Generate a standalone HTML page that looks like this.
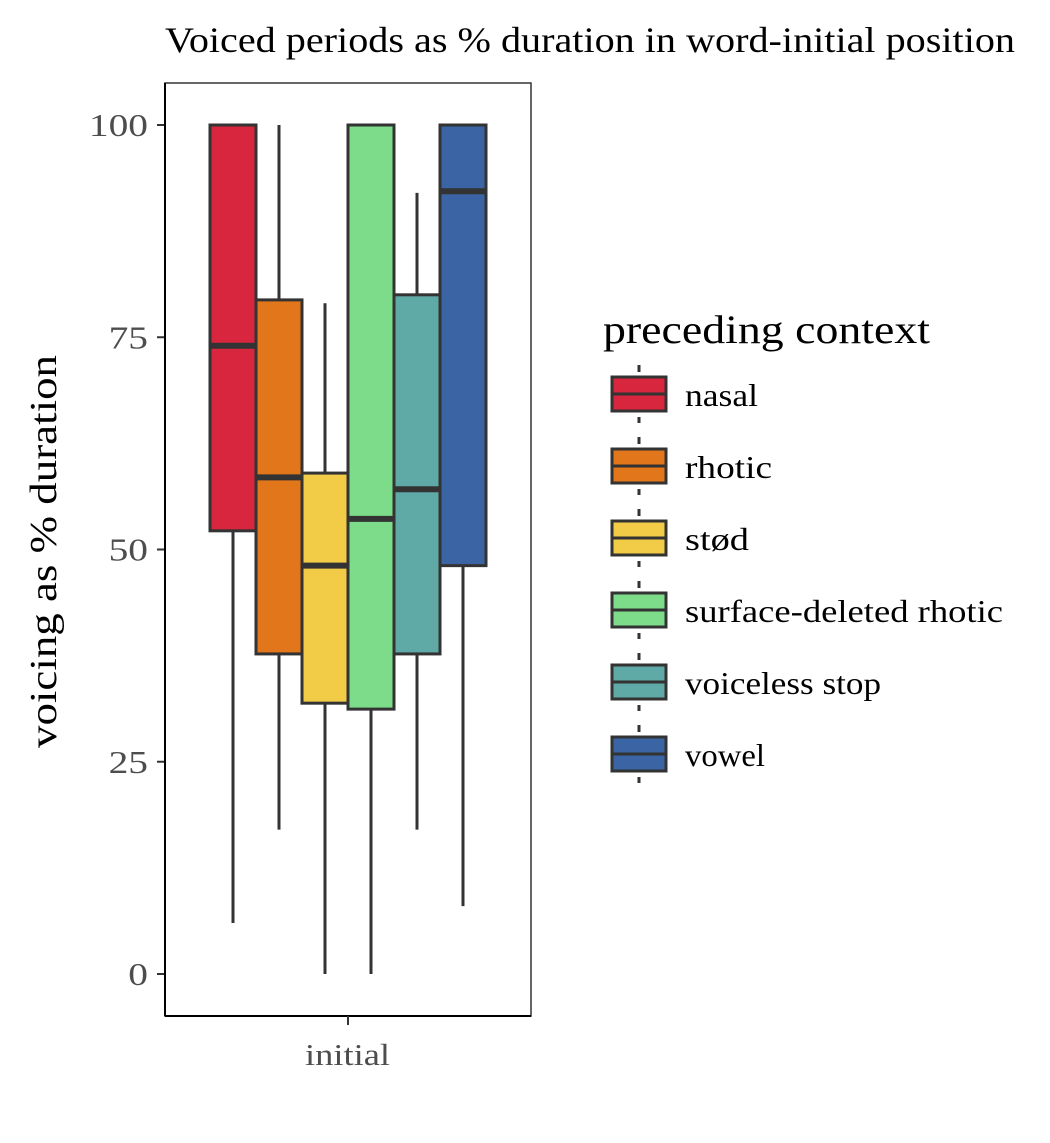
<!DOCTYPE html>
<html><head><meta charset="utf-8"><style>
html,body{margin:0;padding:0;background:#fff;}
svg{display:block;font-family:"Liberation Serif",serif;}
</style></head><body>
<svg id="chart" width="1050" height="1143" viewBox="0 0 1050 1143">
<text x="165" y="52" font-size="36" fill="#000" textLength="850" lengthAdjust="spacingAndGlyphs">Voiced periods as % duration in word-initial position</text>
<rect x="165" y="83" width="366" height="933" fill="#fff" stroke="#333" stroke-width="1.5"/>
<g id="boxes"></g>
<g id="yaxis"></g>
<line x1="165" y1="83" x2="165" y2="1016" stroke="#000" stroke-width="2"/>
<line x1="165" y1="1016" x2="531" y2="1016" stroke="#000" stroke-width="2"/>
<line x1="348" y1="1016" x2="348" y2="1025" stroke="#333" stroke-width="2"/>
<text x="305" y="1065" font-size="31" fill="#4d4d4d" textLength="85" lengthAdjust="spacingAndGlyphs">initial</text>
<text transform="translate(56,748) rotate(-90)" font-size="38" fill="#000" textLength="393" lengthAdjust="spacingAndGlyphs">voicing as % duration</text>
<text x="603" y="343" font-size="40" fill="#000" textLength="327" lengthAdjust="spacingAndGlyphs">preceding context</text>
<g id="legend"></g>
</svg>
<script>
const categories=["nasal","rhotic","stød","surface-deleted rhotic","voiceless stop","vowel"];
const mins=[6,17,0,0,17,8];
const q1s=[52.2,37.7,31.9,31.2,37.7,48.1];
const medians=[74,58.5,48.1,53.6,57.1,92.2];
const q3s=[100,79.4,59,100,80,100];
const maxs=[100,100,79,100,92,100];
const colors=["#D7263D","#E1761B","#F2CB47","#7CDC8A","#5FA9A6","#3A64A3"];
const yTicks=[0,25,50,75,100];
const NS="http://www.w3.org/2000/svg";
const y=v=>974-v*8.49;
const boxW=46, x0=210;
const xc=i=>x0+boxW*i+boxW/2;
function mk(tag,attrs,parent){const e=document.createElementNS(NS,tag);for(const k in attrs)e.setAttribute(k,attrs[k]);parent.appendChild(e);return e;}
const yg=document.getElementById('yaxis');
yTicks.forEach(t=>{
 const l=mk('line',{x1:157,x2:165,y1:y(t),y2:y(t),stroke:'#333','stroke-width':2},yg);
 
 
 const s=String(t);
 const tx=mk('text',{x:148,y:y(t)+11,'font-size':32,fill:'#4d4d4d','text-anchor':'end',textLength:s.length*19.7,lengthAdjust:'spacingAndGlyphs'},yg);
 tx.textContent=s;
 
 
});
const bg=document.getElementById('boxes');
categories.forEach((c,i)=>{
 const g=mk('g',{},bg);
 
 
 const cx=xc(i);
 mk('line',{x1:cx,x2:cx,y1:y(maxs[i]),y2:y(q3s[i]),stroke:'#333','stroke-width':3},g);
 mk('line',{x1:cx,x2:cx,y1:y(q1s[i]),y2:y(mins[i]),stroke:'#333','stroke-width':3},g);
 mk('rect',{x:cx-boxW/2,y:y(q3s[i]),width:boxW,height:y(q1s[i])-y(q3s[i]),fill:colors[i],stroke:'#333','stroke-width':3},g);
 mk('line',{x1:cx-boxW/2,x2:cx+boxW/2,y1:y(medians[i]),y2:y(medians[i]),stroke:'#333','stroke-width':6},g);
});
const labelLens=[73,87,64,318,196,80];
const lg=document.getElementById('legend');
categories.forEach((c,i)=>{
 const g=mk('g',{},lg);
 
 
 const top=365+i*72;
 mk('line',{x1:639,x2:639,y1:top,y2:top+58,stroke:'#333','stroke-width':3,'stroke-dasharray':'7 6'},g);
 mk('rect',{x:612,y:top+12,width:54,height:34,fill:colors[i],stroke:'#333','stroke-width':3},g);
 mk('line',{x1:612,x2:666,y1:top+29,y2:top+29,stroke:'#333','stroke-width':3},g);
 const t=mk('text',{x:685,y:top+41,'font-size':32,fill:'#000',textLength:labelLens[i],lengthAdjust:'spacingAndGlyphs'},g);
 t.textContent=c;
});
</script>
</body></html>
